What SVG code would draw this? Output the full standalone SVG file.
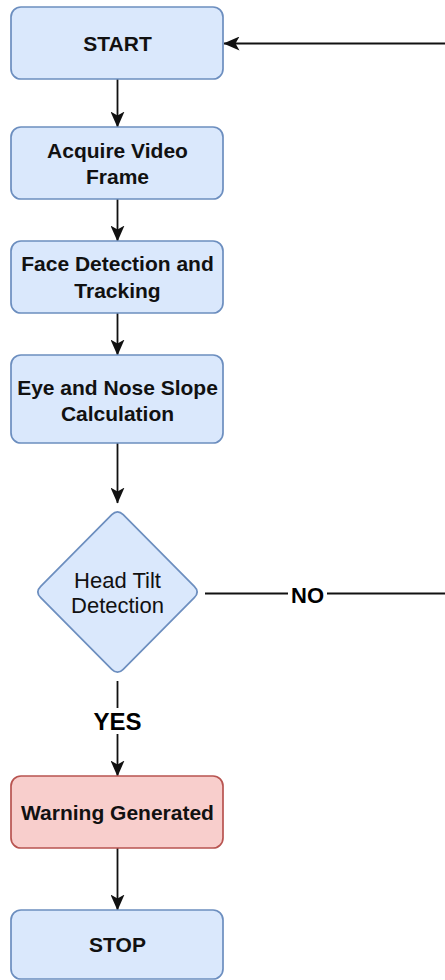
<svg xmlns="http://www.w3.org/2000/svg" width="445" height="980" viewBox="0 0 445 980">
<style>
.box{fill:#dae8fc;stroke:#6c8ebf;stroke-width:1.7}
.warn{fill:#f8cecc;stroke:#b85450;stroke-width:1.7}
.t{font-family:"Liberation Sans",Arial,sans-serif;font-weight:bold;font-size:21px;fill:#111;text-anchor:middle}
.d{font-family:"Liberation Sans",Arial,sans-serif;font-size:22px;fill:#111;text-anchor:middle}
.lbl{font-family:"Liberation Sans",Arial,sans-serif;font-weight:bold;fill:#000;text-anchor:middle}
.c{fill:none;stroke:#111;stroke-width:1.8}
</style>
<defs>
<marker id="arr" viewBox="0 0 16 14" markerWidth="16" markerHeight="14" refX="15.5" refY="7" orient="auto" markerUnits="userSpaceOnUse">
<path d="M0,0 L16,7 L0,14 L4,7 Z" fill="#111"/>
</marker>
</defs>
<rect width="445" height="980" fill="#fff"/>
<g id="connectors">
<line class="c" x1="117.5" y1="79" x2="117.5" y2="127" marker-end="url(#arr)"/>
<line class="c" x1="117.5" y1="199" x2="117.5" y2="241" marker-end="url(#arr)"/>
<line class="c" x1="117.5" y1="313" x2="117.5" y2="355" marker-end="url(#arr)"/>
<line class="c" x1="117.5" y1="443" x2="117.5" y2="503" marker-end="url(#arr)"/>
<line class="c" x1="117.5" y1="681" x2="117.5" y2="776" marker-end="url(#arr)"/>
<line class="c" x1="117.5" y1="848" x2="117.5" y2="910" marker-end="url(#arr)"/>
<line class="c" x1="205" y1="593.5" x2="445" y2="593.5"/>
<line class="c" x1="445" y1="43.5" x2="224" y2="43.5" marker-end="url(#arr)"/>
<rect x="98" y="708" width="40" height="26" fill="#fff"/>
<text class="lbl" x="117.5" y="730" font-size="24">YES</text>
<rect x="288" y="583" width="39" height="22" fill="#fff"/>
<text class="lbl" x="307.5" y="603" font-size="22">NO</text>
</g>
<g id="start">
<rect class="box" x="11" y="7" width="212" height="72" rx="10"/>
<text class="t" x="117.5" y="50.5">START</text>
</g>
<g id="acquire">
<rect class="box" x="11" y="127" width="212" height="72" rx="10"/>
<text class="t" x="117.5" y="157.5">Acquire Video</text>
<text class="t" x="117.5" y="183.5">Frame</text>
</g>
<g id="face">
<rect class="box" x="11" y="241" width="212" height="72" rx="10"/>
<text class="t" x="117.5" y="270.5">Face Detection and</text>
<text class="t" x="117.5" y="297.5">Tracking</text>
</g>
<g id="eye">
<rect class="box" x="11" y="355" width="212" height="88" rx="10"/>
<text class="t" x="117.5" y="394.5">Eye and Nose Slope</text>
<text class="t" x="117.5" y="420.5">Calculation</text>
</g>
<g id="decision">
<path class="box" d="M111.8,514.7 Q117.5,509 123.2,514.7 L194.3,586.3 Q200,592 194.3,597.7 L123.2,669.3 Q117.5,675 111.8,669.3 L40.7,597.7 Q35,592 40.7,586.3 Z"/>
<text class="d" x="117.5" y="587.5">Head Tilt</text>
<text class="d" x="117.5" y="612.5">Detection</text>
</g>
<g id="warning">
<rect class="warn" x="11" y="776" width="212" height="72" rx="10"/>
<text class="t" x="117.5" y="819.5">Warning Generated</text>
</g>
<g id="stop">
<rect class="box" x="11" y="910" width="212" height="69" rx="10"/>
<text class="t" x="117.5" y="951.5">STOP</text>
</g>
</svg>
